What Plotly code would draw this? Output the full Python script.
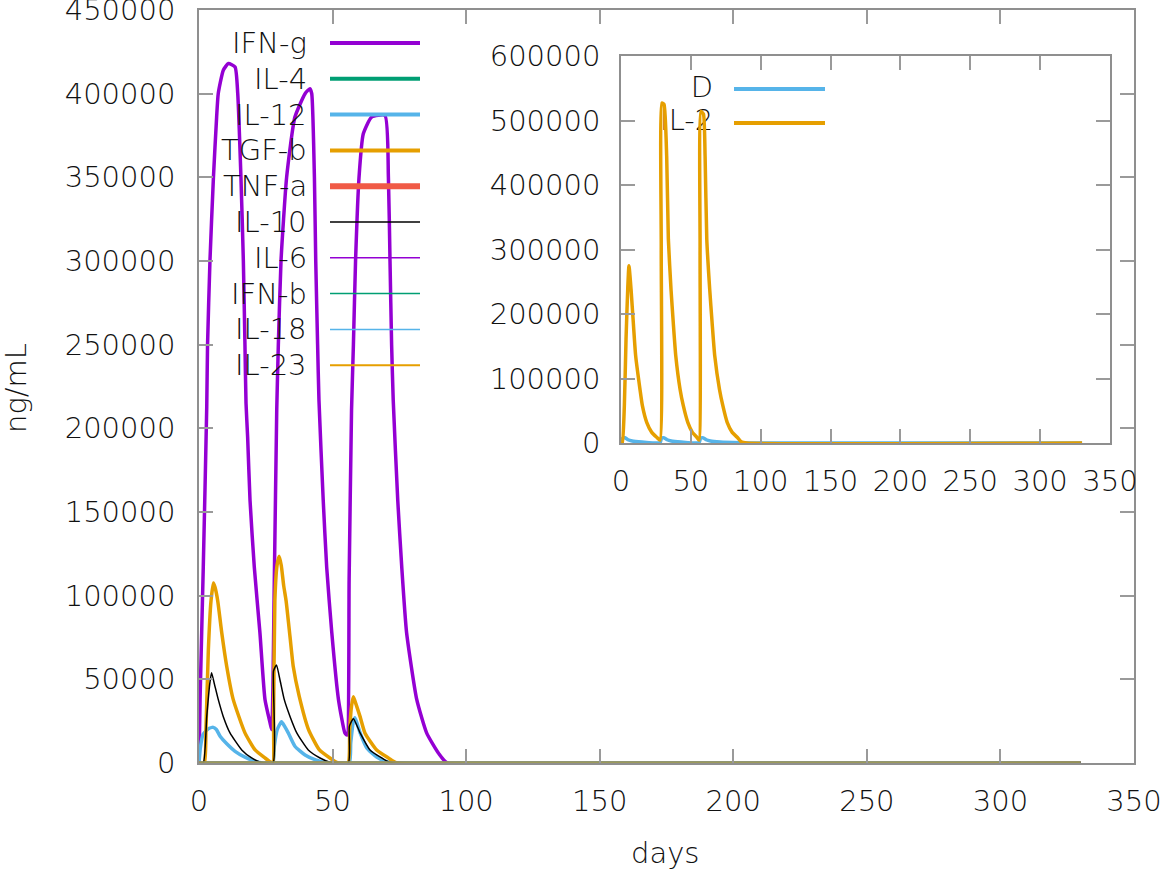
import plotly.graph_objects as go

# ---- main panel data (days, ng/mL) ----
ifng_t = [0, 0.4, 1.6, 2.9, 3.2, 4.1, 5.4, 6.6, 7.2, 9.1, 11.0, 13.5, 14.5, 15.7, 16.6, 17.2, 17.6,
          18.2, 19.1, 20.7, 22.8, 24.7, 26.6, 27.2, 28.2, 29.1, 29.7, 30.7, 32.8, 35.9, 39.7, 41.5,
          42.2, 43.2, 43.7, 44.4, 44.9, 46.5, 47.8, 49.7, 52.2, 54.6, 55.4, 56.2, 57.1, 57.8, 58.6,
          59.9, 61.5, 64.6, 69.6, 70.9, 71.5, 72.1, 72.7, 74.4, 75.9, 77.7, 81.5, 85.2, 89.6, 93, 330]
ifng = [0, 38000, 117000, 213000, 250000, 300000, 350000, 386000, 400000, 414000, 418000, 416000,
        400000, 350000, 300000, 250000, 215000, 195000, 157000, 117000, 78000, 38000, 24000, 20000,
        110000, 211000, 250000, 300000, 350000, 386000, 400000, 403000, 400000, 350000, 300000,
        250000, 217000, 157000, 117000, 78000, 38000, 18000, 16700, 110000, 211000, 250000, 300000,
        350000, 376000, 386000, 387000, 350000, 300000, 250000, 217000, 157000, 117000, 78000,
        38000, 18000, 6000, 0, 0]

tgfb_t = [0, 2.0, 2.6, 3.5, 4.5, 5.4, 6.0, 7.0, 8.5, 10.4, 12.8, 17.2, 21.0, 24.7, 26.8, 27.7, 27.9,
          28.4, 29.2, 30.0, 30.8, 31.7, 32.6, 34.1, 35.3, 37.5, 41.0, 45.0, 49.0, 52.0, 55.8, 56.4,
          57.1, 57.8, 58.8, 60.3, 62.1, 66.5, 70.9, 74.0, 330]
tgfb = [0, 0, 20000, 67500, 97000, 107600, 105000, 97000, 78000, 57500, 38000, 18000, 7800, 3000,
        500, 0, 25000, 97000, 118000, 123500, 118000, 106000, 97000, 75000, 57500, 40000, 20000,
        8000, 3000, 0, 0, 20000, 34000, 39600, 35000, 27700, 18000, 7800, 3000, 0, 0]

il10_t = [0, 1.6, 2.9, 4.0, 4.7, 5.8, 7.2, 9.1, 11.6, 16.0, 19.7, 23.0, 27.7, 27.9, 29.0, 30.4,
          31.9, 34.1, 36.6, 40.9, 45.3, 49.0, 55.9, 56.3, 57.8, 60.3, 64.0, 68.4, 71.5, 330]
il10 = [0, 0, 27700, 47000, 54000, 47000, 38000, 27700, 18000, 7800, 3000, 500, 0, 55000, 58600,
        49000, 38000, 27700, 18000, 7800, 3000, 500, 0, 22000, 26500, 18000, 7800, 3000, 300, 0]

il12_t = [0, 0.5, 1.5, 3.5, 5.3, 6.5, 7.9, 10.4, 13.5, 17.2, 22.0, 27.6, 28.2, 29.3, 30.9, 32.0,
          33.4, 35.9, 39.7, 43.4, 47.0, 56.2, 56.8, 57.8, 58.4, 60.3, 62.8, 66.5, 71.0, 330]
il12 = [0, 9000, 17000, 20500, 21300, 20000, 16000, 11500, 7000, 3500, 500, 0, 10000, 20000, 24700,
        22000, 18000, 10000, 4800, 2000, 300, 0, 12000, 25000, 27000, 18000, 9000, 3600, 500, 0]

flat_t = [0, 330]
flat = [0, 0]

# ---- inset data ----
il2_t = [0, 0.9, 2.4, 3.6, 4.8, 5.7, 7.2, 8.8, 10.5, 13.6, 15.3, 18.4, 22.0, 25.6, 27.9, 28.8,
         29.3, 30.8, 32.7, 33.9, 35.8, 37.4, 39.2, 42.3, 44.6, 47.8, 51.1, 54.3, 55.8, 56.6, 57.2,
         59.0, 60.2, 61.4, 63.5, 65.2, 67.1, 70.5, 72.9, 76.0, 79.6, 83.2, 86.0, 90.0, 330]
il2 = [0, 0, 57800, 161000, 238000, 275000, 238000, 187000, 135000, 83000, 57800, 32000, 16500,
       8800, 4500, 300000, 527000, 525000, 444000, 316000, 238000, 187000, 135000, 83000, 57800,
       32000, 16500, 8800, 4500, 300000, 514000, 510000, 444000, 316000, 238000, 187000, 135000,
       83000, 57800, 32000, 16500, 8800, 2000, 0, 0]

d_t = [0, 1.0, 3.0, 5.0, 8.0, 15.0, 27.9, 29.0, 31.0, 33.0, 36.0, 43.0, 55.8, 57.0, 59.0, 61.0,
       64.0, 71.0, 85.0, 100.0, 330]
d_vals = [0, 7000, 8000, 5000, 3000, 1500, 500, 7500, 8000, 5000, 3000, 1500, 500, 7500, 8000,
          5000, 3000, 1500, 500, 0, 0]

x_ticks = [0, 50, 100, 150, 200, 250, 300, 350]
main_y_ticks = [0, 50000, 100000, 150000, 200000, 250000, 300000, 350000, 400000, 450000]
inset_y_ticks = [0, 100000, 200000, 300000, 400000, 500000, 600000]

PURPLE = "#9400D3"
GREEN = "#009E73"
BLUE = "#56B4E9"
ORANGE = "#E69F00"
RED = "#F05A46"
BLACK = "#000000"

# name, t, values, colour, width, opacity, legend width
main_series = [
    ("IFN-g", ifng_t, ifng, PURPLE, 3.5, 1.0, 4),
    ("IL-4", flat_t, flat, GREEN, 3.5, 0.5, 4),
    ("IL-12", il12_t, il12, BLUE, 3.5, 1.0, 4),
    ("TGF-b", tgfb_t, tgfb, ORANGE, 3.5, 1.0, 4),
    ("TNF-a", flat_t, flat, RED, 3.5, 0.4, 6),
    ("IL-10", il10_t, il10, BLACK, 1.5, 1.0, 1.5),
    ("IL-6", flat_t, flat, PURPLE, 3.5, 0.5, 1.5),
    ("IFN-b", flat_t, flat, GREEN, 3.5, 0.5, 1.5),
    ("IL-18", flat_t, flat, BLUE, 3.5, 0.5, 1.5),
    ("IL-23", flat_t, flat, ORANGE, 3.5, 0.5, 2),
]

W, H = 1165, 870
L, R, T, B = 199, 31, 10, 107


def px(x):
    return (x - L) / (W - L - R)


def py(y):
    return (H - B - y) / (H - T - B)


FONT = "DejaVu Sans, Liberation Sans, sans-serif"
TXT = dict(family=FONT, size=29, color="#111111", weight=200)
fig = go.Figure()

for name, t, v, col, w, op, _ in main_series:
    fig.add_trace(go.Scatter(x=t, y=v, mode="lines", name=name, opacity=op,
                             line=dict(color=col, width=w, shape="spline", smoothing=0.5),
                             showlegend=False))

# inset: legend texts first so the IL-2 spike covers the start of its label
fig.add_trace(go.Scatter(x=[66, 66], y=[547000, 496000], mode="text", text=["D", "IL-2"],
                         textposition="middle left", textfont=TXT,
                         xaxis="x2", yaxis="y2", showlegend=False))
fig.add_trace(go.Scatter(x=d_t, y=d_vals, mode="lines", name="D",
                         line=dict(color=BLUE, width=3.5, shape="spline", smoothing=0.5),
                         xaxis="x2", yaxis="y2", showlegend=False))
fig.add_trace(go.Scatter(x=il2_t, y=il2, mode="lines", name="IL-2",
                         line=dict(color=ORANGE, width=3.5, shape="spline", smoothing=0.5),
                         xaxis="x2", yaxis="y2", showlegend=False))

# hand-made key, text right-aligned with the sample line to its right
for i, (name, _, _, col, _, _, lw) in enumerate(main_series):
    yy = 43 + i * 35.8
    fig.add_annotation(x=px(309), y=py(yy), xref="paper", yref="paper", text=name, showarrow=False,
                       xanchor="right", yanchor="middle", font=TXT)
    fig.add_shape(type="line", xref="paper", yref="paper", x0=px(330), x1=px(420), y0=py(yy), y1=py(yy),
                  line=dict(color=col, width=lw))
for i, col in enumerate([BLUE, ORANGE]):
    yy = 89 + i * 34
    fig.add_shape(type="line", xref="paper", yref="paper", x0=px(734), x1=px(825), y0=py(yy), y1=py(yy),
                  line=dict(color=col, width=4))

axis_style = dict(showgrid=False, zeroline=False, showline=True, linecolor="#8f8f8f", linewidth=1.5,
                  mirror="ticks", ticks="inside", ticklen=14, tickcolor="#9a9a9a", tickwidth=1.5,
                  tickfont=TXT, automargin=False, ticklabeloverflow="allow")

fig.update_layout(
    width=W, height=H,
    margin=dict(l=L, r=R, t=T, b=B),
    paper_bgcolor="white", plot_bgcolor="white",
    xaxis=dict(range=[0, 350], tickvals=x_ticks, domain=[0, 1], ticklabelstandoff=11, **axis_style),
    yaxis=dict(range=[0, 450000], tickvals=main_y_ticks, tickformat="d", ticklabelstandoff=16, **axis_style),
    xaxis2=dict(range=[0, 350], tickvals=x_ticks, domain=[px(621), px(1110)], anchor="y2",
                ticklabelstandoff=11, **axis_style),
    yaxis2=dict(range=[0, 600000], tickvals=inset_y_ticks, tickformat="d", domain=[py(443), py(56)],
                anchor="x2", ticklabelstandoff=13, **axis_style),
)

fig.add_annotation(x=px(16), y=py(388), xref="paper", yref="paper", text="ng/mL", showarrow=False,
                   textangle=-90, xanchor="center", yanchor="middle", font=TXT)
fig.add_annotation(x=px(665), y=py(853), xref="paper", yref="paper", text="days", showarrow=False,
                   xanchor="center", yanchor="middle", font=TXT)

# drop the default 8px body margin so the figure fills the window exactly
fig.write_html("out.html", config={"displayModeBar": False},
               post_script="document.body.style.margin='0';")
